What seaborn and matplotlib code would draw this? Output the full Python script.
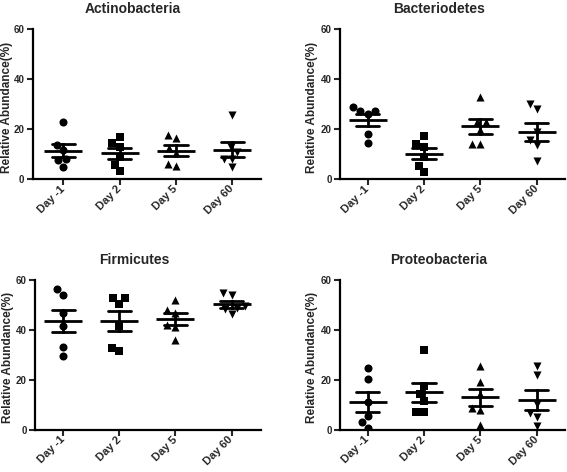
import pandas as pd
import matplotlib
matplotlib.use('Agg')
import matplotlib.pyplot as plt
import seaborn as sns

days = ['Day -1', 'Day 2', 'Day 5', 'Day 60']
markers = ['o', 's', '^', 'v']

# relative abundance (%) per sample, one list per day
actinobacteria = [
    [22.8, 13.7, 11.5, 8.0, 7.5, 5.0],
    [17.0, 14.4, 12.8, 9.0, 5.7, 3.1],
    [17.7, 16.4, 12.4, 10.4, 6.1, 5.3],
    [25.5, 13.0, 10.7, 8.0, 8.0, 4.7],
]
bacteriodetes = [
    [28.9, 27.3, 26.0, 27.3, 17.9, 14.4],
    [17.2, 14.2, 12.8, 9.0, 5.4, 2.7],
    [33.0, 22.7, 22.7, 19.7, 14.1, 14.1],
    [30.0, 28.0, 19.0, 15.5, 13.5, 7.3],
]
firmicutes = [
    [56.4, 54.0, 47.0, 41.7, 33.3, 29.4],
    [52.9, 52.7, 50.5, 41.7, 32.9, 31.4],
    [52.0, 47.9, 47.0, 42.1, 41.4, 36.1],
    [55.0, 54.1, 49.5, 48.8, 48.4, 46.4],
]
proteobacteria = [
    [24.6, 20.3, 11.2, 5.6, 3.2, 0.8],
    [31.8, 17.6, 14.4, 11.5, 7.2, 7.2],
    [25.4, 19.0, 14.4, 8.5, 8.0, 2.0],
    [25.4, 21.9, 10.2, 6.7, 5.0, 1.6],
]

titles = ['Actinobacteria', 'Bacteriodetes', 'Firmicutes', 'Proteobacteria']
groups = [actinobacteria, bacteriodetes, firmicutes, proteobacteria]

sns.set_style('ticks')
plt.rcParams['font.family'] = ['Liberation Sans', 'DejaVu Sans']
plt.rcParams['font.weight'] = 'bold'

W, H = 567, 472
fig = plt.figure(figsize=(W / 100, H / 100), dpi=100)

# axes boxes in pixels: left, top, right, bottom, xlim, ylabel x
boxes = [
    (32.7, 29.3, 260.7, 179.0, (-0.54, 3.5), -0.085),
    (340.0, 29.3, 565.0, 179.0, (-0.49, 3.5), -0.10),
    (35.0, 280.3, 260.7, 429.5, (-0.5, 3.52), -0.095),
    (340.0, 280.3, 565.0, 429.5, (-0.49, 3.5), -0.10),
]

for title, vals, (l, t, r, b, xl, lx) in zip(titles, groups, boxes):
    ax = fig.add_axes([l / W, 1 - b / H, (r - l) / W, (b - t) / H])
    df = pd.DataFrame({
        'day': [d for d, v in zip(days, vals) for _ in v],
        'value': [x for v in vals for x in v],
    })

    sns.pointplot(data=df, x='day', y='value', order=days, errorbar='se',
                  capsize=0.41, linestyle='none', marker='_', markersize=28,
                  markeredgewidth=2, color='black', err_kws={'linewidth': 2},
                  ax=ax)
    for d, m in zip(days, markers):
        sub = df[df['day'] == d]
        sns.swarmplot(data=sub, x='day', y='value', order=days, marker=m,
                      color='black', size=5.8, linewidth=0, ax=ax)

    ax.set_xlim(*xl)
    ax.set_ylim(0, 60)
    ax.set_yticks([0, 20, 40, 60])
    ax.set_title(title, fontsize=10, fontweight='bold', x=0.44, pad=12)
    ax.set_xlabel('')
    ax.set_ylabel('Relative Abundance(%)', fontsize=8.5, fontweight='bold')
    ax.yaxis.set_label_coords(lx, 0.48)
    ax.tick_params(axis='both', direction='out', length=4, width=1.5, pad=2)
    ax.tick_params(axis='y', labelsize=7)
    ax.tick_params(axis='x', labelsize=8)
    for lab in ax.get_xticklabels():
        lab.set_rotation(45)
        lab.set_ha('right')
        lab.set_va('center')
        lab.set_rotation_mode('anchor')
        lab.set_fontweight('bold')
    for lab in ax.get_yticklabels():
        lab.set_fontweight('bold')
    sns.despine(ax=ax)
    for s in ['left', 'bottom']:
        ax.spines[s].set_linewidth(1.6)
        ax.spines[s].set_color('black')

plt.savefig('out.png', dpi=100)
